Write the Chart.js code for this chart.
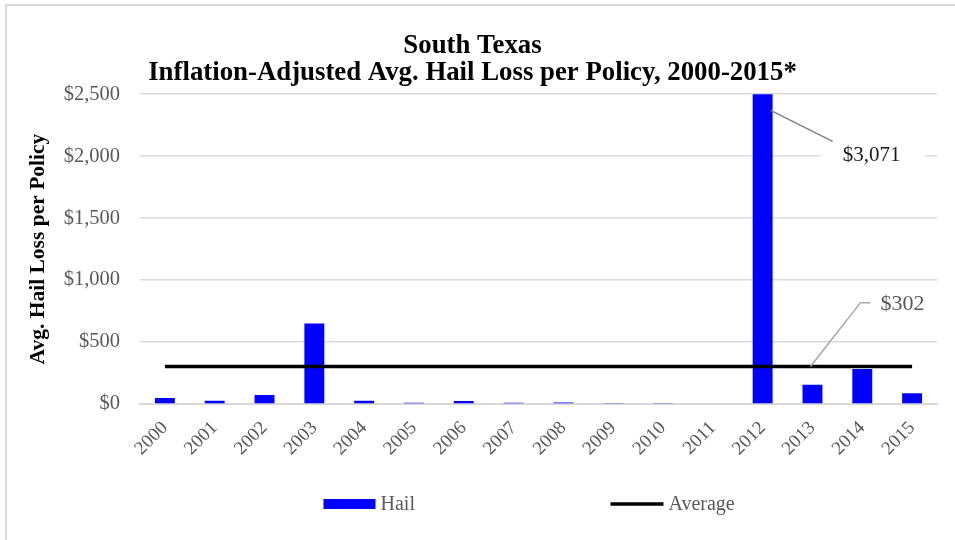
<!DOCTYPE html>
<html lang="en">
<head>
  <meta charset="UTF-8">
  <title>South Texas Hail Loss</title>
  <style>
    html, body { margin: 0; padding: 0; background: #fff; overflow: hidden; }
  </style>
  <script src="https://cdn.jsdelivr.net/npm/chart.js"></script>
</head>
<body>
  <canvas id="grafico" width="955" height="540"></canvas>

  <script>
    const years = ['2000','2001','2002','2003','2004','2005','2006','2007',
                   '2008','2009','2010','2011','2012','2013','2014','2015'];
    const hailLoss = [49, 27, 73, 650, 27, 10, 25, 10, 12, 8, 4, 0, 3071, 155, 283, 86];
    const averageLine = [302, 302, 302, 302, 302, 302, 302, 302,
                         302, 302, 302, 302, 302, 302, 302, 302];
    const averageLoss = 302;
    const yTicks = [0, 500, 1000, 1500, 2000, 2500];

    const serif = "'Liberation Serif', 'Times New Roman', serif";
    const grey = '#595959';

    const money = v => '$' + Math.round(v).toLocaleString('en-US');

    // borde, leyenda y etiquetas de llamada
    const extras = {
      id: 'extras',
      beforeDraw(chart) {
        const c = chart.ctx;
        c.save();
        c.strokeStyle = '#d9d9d9';
        c.lineWidth = 2;
        c.strokeRect(6, 5, 960, 545);
        c.restore();
      },
      afterDraw(chart) {
        const c = chart.ctx;
        const x = chart.scales.x, y = chart.scales.y;
        const bx = x.getPixelForValue(12);
        const half = 10;

        c.save();
        c.textBaseline = 'middle';
        c.textAlign = 'left';

        // $3,071
        c.font = '21px ' + serif;
        const lx = bx + 80, ly = y.getPixelForValue(2000) - 1;
        c.fillStyle = '#fff';
        c.fillRect(bx + 58, ly - 13, 104, 24);
        c.strokeStyle = '#7f7f7f';
        c.lineWidth = 1.5;
        c.beginPath();
        c.moveTo(bx + half - 2, y.getPixelForValue(2370));
        c.lineTo(bx + 70, y.getPixelForValue(2120));
        c.stroke();
        c.fillStyle = '#1a1a1a';
        c.fillText(money(hailLoss[12]), lx, ly);

        // $302
        c.font = '22px ' + serif;
        const ax = x.getPixelForValue(13) - 2;
        const ay = y.getPixelForValue(averageLoss);
        const ty = y.getPixelForValue(818);
        c.strokeStyle = '#a6a6a6';
        c.beginPath();
        c.moveTo(ax, ay);
        c.lineTo(ax + 50, ty);
        c.lineTo(ax + 60, ty);
        c.stroke();
        c.fillStyle = grey;
        c.fillText(money(averageLoss), ax + 70, ty + 2);

        // leyenda
        const mid = (chart.chartArea.left + chart.chartArea.right) / 2;
        const ly2 = 504;
        c.font = '20px ' + serif;
        c.fillStyle = '#0000ff';
        c.fillRect(mid - 215, ly2 - 5, 52, 10);
        c.fillStyle = grey;
        c.fillText('Hail', mid - 158, ly2 + 1);
        c.strokeStyle = '#000';
        c.lineWidth = 3.5;
        c.beginPath();
        c.moveTo(mid + 72, ly2);
        c.lineTo(mid + 125, ly2);
        c.stroke();
        c.fillText('Average', mid + 130, ly2 + 1);
        c.restore();
      }
    };

    new Chart(document.getElementById('grafico'), {
      type: 'bar',
      data: {
        labels: years,
        datasets: [{
          label: 'Hail',
          data: hailLoss,
          backgroundColor: '#0000ff',
          barPercentage: 0.8,
          categoryPercentage: 0.5,
          grouped: false,
          order: 2
        }, {
          type: 'line',
          label: 'Average',
          data: averageLine,
          borderColor: '#000',
          backgroundColor: '#000',
          borderWidth: 3.5,
          pointRadius: 0,
          order: 1
        }]
      },
      options: {
        responsive: false,
        animation: false,
        layout: { padding: { left: 8, right: 18, top: 32, bottom: 0 } },
        scales: {
          x: {
            grid: { display: false },
            border: { color: '#d9d9d9', width: 2 },
            ticks: {
              color: grey,
              font: { family: serif, size: 19 },
              autoSkip: false,
              minRotation: 45, maxRotation: 45,
              padding: 5
            },
            afterFit(s) { s.height = 136; }
          },
          y: {
            min: 0, max: 2500,
            afterBuildTicks(s) { s.ticks = yTicks.map(v => ({ value: v })); },
            grid: { color: '#d9d9d9', lineWidth: 1.5, drawTicks: false },
            border: { display: false },
            ticks: {
              color: grey,
              font: { family: serif, size: 20.5 },
              padding: 20,
              callback: v => money(v)
            },
            title: {
              display: true,
              text: 'Avg. Hail Loss per Policy',
              color: '#000',
              font: { family: serif, size: 21.5, weight: 'bold' },
              padding: { top: 18, bottom: 0 }
            },
            afterFit(s) { s.width = 132; }
          }
        },
        plugins: {
          title: {
            display: true,
            text: ['South Texas', 'Inflation-Adjusted Avg. Hail Loss per Policy, 2000-2015*'],
            color: '#000',
            font: { family: serif, size: 26.8, weight: 'bold', lineHeight: 1.03 },
            padding: { top: 0, bottom: 7 }
          },
          legend: { display: false },
          tooltip: { enabled: false }
        }
      },
      plugins: [extras]
    });
  </script>
</body>
</html>
